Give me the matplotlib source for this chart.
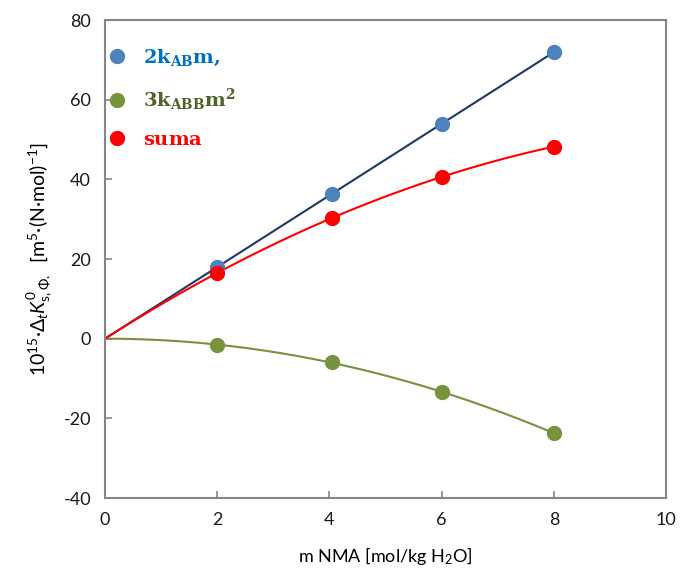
import numpy as np
import matplotlib
matplotlib.use('Agg')
import matplotlib.pyplot as plt
from matplotlib.font_manager import FontProperties

plt.rcParams['font.family'] = ['Lato', 'DejaVu Sans']
plt.rcParams['mathtext.fontset'] = 'custom'
plt.rcParams['mathtext.rm'] = 'Lato'
plt.rcParams['mathtext.it'] = 'Lato:italic'
plt.rcParams['mathtext.bf'] = 'Lato:bold'
plt.rcParams['axes.unicode_minus'] = False

# data
m_nma = np.array([2.0, 4.05, 6.0, 8.0])
two_kab_m = np.array([18.0, 36.3, 53.9, 72.0])
three_kabb_m2 = np.array([-1.5, -5.8, -13.3, -23.8])
suma = np.array([16.5, 30.2, 40.5, 48.1])

x_ticks = [0, 2, 4, 6, 8, 10]
y_ticks = [-40, -20, 0, 20, 40, 60, 80]

c_blue = '#4F81BD'
c_green = '#77933C'
c_red = '#FF0000'

# trendlines through origin
k1 = np.sum(m_nma * two_kab_m) / np.sum(m_nma ** 2)
k2 = np.sum(m_nma ** 2 * three_kabb_m2) / np.sum(m_nma ** 4)
mm = np.linspace(0, 8, 200)

fig = plt.figure(figsize=(6.81, 5.70), dpi=100)
ax = fig.add_axes([0.1542, 0.1263, 0.8238, 0.8386])

ax.plot(mm, k1 * mm, color='#1F3864', lw=1.5, zorder=2)
ax.plot(mm, k2 * mm ** 2, color=c_green, lw=1.5, zorder=2)
ax.plot(mm, k1 * mm + k2 * mm ** 2, color=c_red, lw=1.5, zorder=2)

ax.plot(m_nma, two_kab_m, 'o', color=c_blue, ms=10, zorder=3,
        label=r'$\mathbf{2k_{AB}m}$,')
ax.plot(m_nma, three_kabb_m2, 'o', color=c_green, ms=10, zorder=3,
        label=r'$\mathbf{3k_{ABB}m^{2}}$')
ax.plot(m_nma, suma, 'o', color=c_red, ms=10, zorder=3,
        label=r'$\mathbf{suma}$')

ax.set_xlim(0, 10)
ax.set_ylim(-40, 80)
ax.set_xticks(x_ticks)
ax.set_yticks(y_ticks)
ax.tick_params(direction='in', length=5, width=1.2, color='#868686',
               labelsize=13, pad=10, labelcolor='#1a1a1a')
for s in ax.spines.values():
    s.set_color('#868686')
    s.set_linewidth(1.5)

ax.set_xlabel(r'm NMA [mol/kg H$_2$O]', fontsize=13, labelpad=12)
ax.set_ylabel(r'10$^{15}$·$\mathrm{\Delta}_{t}$$K^{\mathrm{0}}_{\mathrm{s,\Phi.}}$  [m$^{5}$·(N·mol)$^{-1}$]',
              fontsize=14, labelpad=6)

leg_font = FontProperties(family='DejaVu Serif', weight='bold', size=14,
                          math_fontfamily='dejavuserif')
leg = ax.legend(loc='upper left', frameon=False, prop=leg_font,
                labelcolor=['#0070C0', '#4F6228', c_red],
                handletextpad=0.75, handlelength=1.2, labelspacing=0.95,
                borderaxespad=0.3, bbox_to_anchor=(-0.024, 0.97))

fig.savefig('out.png', dpi=100)
